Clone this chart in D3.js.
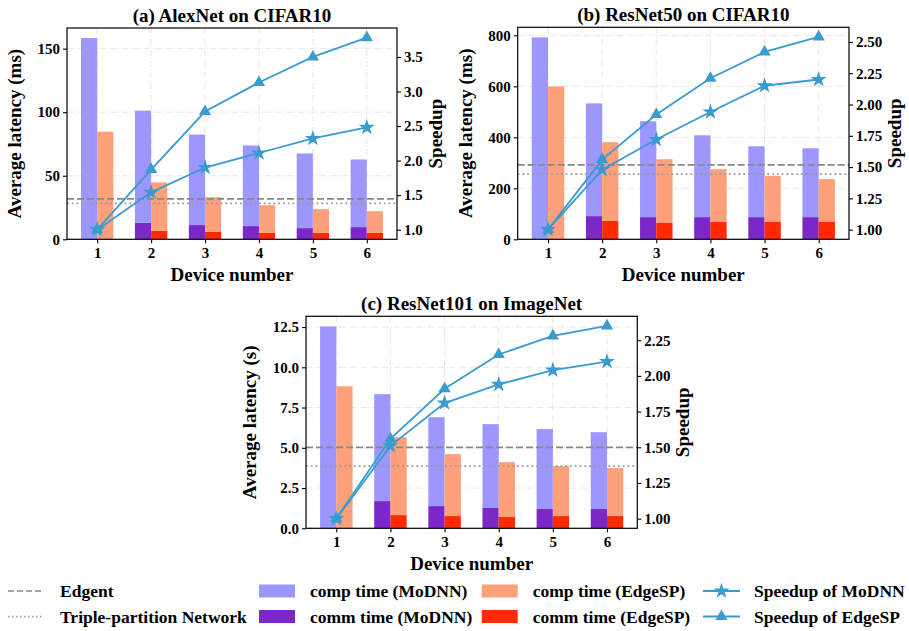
<!DOCTYPE html>
<html>
<head>
<meta charset="utf-8">
<script src="https://cdn.jsdelivr.net/npm/d3@7"></script>
<style>
  body { margin: 0; background: #fff; }
  svg { font-family: "Liberation Serif", "Times New Roman", serif; font-weight: bold; }
</style>
</head>
<body>
<div id="general"></div>
<script>
const devices = [1, 2, 3, 4, 5, 6];

// (a) AlexNet on CIFAR10, ms
const alexCommModnn = [0, 13, 11.2, 10.4, 8.8, 9.6];
const alexTotalModnn = [158.3, 101.2, 82.4, 73.8, 67.5, 62.8];
const alexCommEdgesp = [0, 6.7, 6.0, 5.2, 5.2, 5.2];
const alexTotalEdgesp = [84.7, 44.8, 33.1, 26.8, 23.7, 22.1];
const alexSpeedModnn = [1.0, 1.54, 1.90, 2.11, 2.32, 2.48];
const alexSpeedEdgesp = [1.0, 1.87, 2.71, 3.13, 3.50, 3.78];
const alexEdgent = 31.8, alexTriple = 28.2;

// (b) ResNet50 on CIFAR10, ms
const r50CommModnn = [0, 91, 87, 87, 87, 87];
const r50TotalModnn = [792, 533, 463, 408, 365, 357];
const r50CommEdgesp = [0, 72, 64, 68, 68, 68];
const r50TotalEdgesp = [600, 381, 314, 275, 249, 236];
const r50SpeedModnn = [1.0, 1.48, 1.72, 1.94, 2.15, 2.20];
const r50SpeedEdgesp = [1.0, 1.56, 1.92, 2.21, 2.42, 2.54];
const r50Edgent = 292, r50Triple = 256;

// (c) ResNet101 on ImageNet, s
const r101CommModnn = [0, 1.69, 1.38, 1.26, 1.20, 1.20];
const r101TotalModnn = [12.54, 8.33, 6.90, 6.47, 6.16, 5.97];
const r101CommEdgesp = [0, 0.82, 0.76, 0.70, 0.76, 0.76];
const r101TotalEdgesp = [8.82, 5.66, 4.61, 4.11, 3.86, 3.74];
const r101SpeedModnn = [1.0, 1.51, 1.81, 1.94, 2.04, 2.10];
const r101SpeedEdgesp = [1.0, 1.56, 1.91, 2.15, 2.28, 2.35];
const r101Edgent = 5.02, r101Triple = 3.86;

const col = {
  compModnn: "#9b97fd",
  commModnn: "#7c27c9",
  compEdgesp: "#fea07a",
  commEdgesp: "#ff2a00",
  line: "#3a9bce",
  ref: "#888888"
};

const W = 909, H = 631;
const svg = d3.select("#general").append("svg")
  .attr("width", W).attr("height", H)
  .attr("viewBox", [0, 0, W, H]);

const star = d3.symbol().type(d3.symbolStar).size(80);
const tri = d3.symbol().type(d3.symbolTriangle).size(65);

function panel(p) {
  const g = svg.append("g");
  const x = d3.scaleLinear().domain([0.44, 6.56]).range([p.l, p.r]);
  const maxBar = d3.max(p.totalModnn.concat(p.totalEdgesp));
  const y = d3.scaleLinear().domain([0, maxBar * 1.05]).range([p.b, p.t]);
  const allSp = p.spModnn.concat(p.spEdgesp);
  const [s0, s1] = d3.extent(allSp);
  const pad = (s1 - s0) * 0.05;
  const y2 = d3.scaleLinear().domain([s0 - pad, s1 + pad]).range([p.b, p.t]);
  const bw = x(1.3) - x(1);

  // grid
  g.append("g").selectAll("line").data(p.yTicks).join("line")
    .attr("x1", p.l).attr("x2", p.r).attr("y1", d => y(d)).attr("y2", d => y(d))
    .attr("stroke", "#e3e3e3").attr("stroke-width", 0.9).attr("stroke-dasharray", "6,2,1,2");
  g.append("g").selectAll("line").data(devices).join("line")
    .attr("y1", p.t).attr("y2", p.b).attr("x1", d => x(d)).attr("x2", d => x(d))
    .attr("stroke", "#e3e3e3").attr("stroke-width", 0.9).attr("stroke-dasharray", "6,2,1,2");

  // bars: comm at the bottom, comp stacked on top
  const rows = devices.map((d, i) => ({
    d, cm: p.commModnn[i], tm: p.totalModnn[i], ce: p.commEdgesp[i], te: p.totalEdgesp[i]
  }));
  const gb = g.append("g");
  gb.selectAll(".cm").data(rows).join("rect")
    .attr("x", r => x(r.d) - bw).attr("width", bw)
    .attr("y", r => y(r.cm)).attr("height", r => y(0) - y(r.cm)).attr("fill", col.commModnn);
  gb.selectAll(".pm").data(rows).join("rect")
    .attr("x", r => x(r.d) - bw).attr("width", bw)
    .attr("y", r => y(r.tm)).attr("height", r => y(r.cm) - y(r.tm)).attr("fill", col.compModnn);
  gb.selectAll(".ce").data(rows).join("rect")
    .attr("x", r => x(r.d)).attr("width", bw)
    .attr("y", r => y(r.ce)).attr("height", r => y(0) - y(r.ce)).attr("fill", col.commEdgesp);
  gb.selectAll(".pe").data(rows).join("rect")
    .attr("x", r => x(r.d)).attr("width", bw)
    .attr("y", r => y(r.te)).attr("height", r => y(r.ce) - y(r.te)).attr("fill", col.compEdgesp);

  // reference lines
  g.append("line").attr("x1", p.l).attr("x2", p.r).attr("y1", y(p.edgent)).attr("y2", y(p.edgent))
    .attr("stroke", col.ref).attr("stroke-width", 1.8).attr("stroke-dasharray", "7,3");
  g.append("line").attr("x1", p.l).attr("x2", p.r).attr("y1", y(p.triple)).attr("y2", y(p.triple))
    .attr("stroke", "#999").attr("stroke-width", 1.8).attr("stroke-dasharray", "1.8,3");

  // speedup lines
  const line = d3.line().x((v, i) => x(devices[i])).y(v => y2(v));
  [[p.spEdgesp, tri], [p.spModnn, star]].forEach(([vals, sym]) => {
    g.append("path").attr("d", line(vals)).attr("fill", "none")
      .attr("stroke", col.line).attr("stroke-width", 1.8);
    g.append("g").selectAll("path").data(vals).join("path")
      .attr("transform", (v, i) => `translate(${x(devices[i])},${y2(v)})`)
      .attr("d", sym).attr("fill", col.line);
  });

  // frame
  g.append("rect").attr("x", p.l).attr("y", p.t).attr("width", p.r - p.l).attr("height", p.b - p.t)
    .attr("fill", "none").attr("stroke", "#000").attr("stroke-width", 1.2);

  // axes
  const ax = g.append("g").attr("transform", `translate(0,${p.b})`)
    .call(d3.axisBottom(x).tickValues(devices).tickSize(4).tickPadding(4).tickFormat(d3.format("d")));
  const ay = g.append("g").attr("transform", `translate(${p.l},0)`)
    .call(d3.axisLeft(y).tickValues(p.yTicks).tickSize(4).tickPadding(3).tickFormat(d3.format(p.yFmt)));
  const ay2 = g.append("g").attr("transform", `translate(${p.r},0)`)
    .call(d3.axisRight(y2).tickValues(p.y2Ticks).tickSize(4).tickPadding(3).tickFormat(d3.format(p.y2Fmt)));
  [ax, ay, ay2].forEach(a => {
    a.select(".domain").remove();
    a.selectAll("line").attr("stroke", "#000").attr("stroke-width", 1.1);
    a.selectAll("text").attr("font-size", 15).attr("font-family", "Liberation Serif").attr("font-weight", "bold").attr("fill", "#000");
  });

  // labels
  const cx = (p.l + p.r) / 2;
  g.append("text").attr("x", cx).attr("y", p.t - 6).attr("text-anchor", "middle")
    .attr("font-size", 19).text(p.title);
  g.append("text").attr("x", cx).attr("y", p.b + 42).attr("text-anchor", "middle")
    .attr("font-size", 19).text("Device number");
  g.append("text").attr("transform", `translate(${p.l - p.yLabOff},${(p.t + p.b) / 2}) rotate(-90)`)
    .attr("text-anchor", "middle").attr("font-size", 19).text(p.yLabel);
  g.append("text").attr("transform", `translate(${p.r + p.y2LabOff},${(p.t + p.b) / 2}) rotate(-90)`)
    .attr("text-anchor", "middle").attr("font-size", 19).text("Speedup");
}

panel({
  l: 67, r: 397, t: 28, b: 239.3, title: "(a) AlexNet on CIFAR10", yLabel: "Average latency (ms)",
  commModnn: alexCommModnn, totalModnn: alexTotalModnn, commEdgesp: alexCommEdgesp, totalEdgesp: alexTotalEdgesp,
  spModnn: alexSpeedModnn, spEdgesp: alexSpeedEdgesp, edgent: alexEdgent, triple: alexTriple,
  yTicks: [0, 50, 100, 150], yFmt: "d", y2Ticks: [1, 1.5, 2, 2.5, 3, 3.5], y2Fmt: ".1f",
  yLabOff: 46, y2LabOff: 45
});
panel({
  l: 517.7, r: 849, t: 27.3, b: 239.3, title: "(b) ResNet50 on CIFAR10", yLabel: "Average latency (ms)",
  commModnn: r50CommModnn, totalModnn: r50TotalModnn, commEdgesp: r50CommEdgesp, totalEdgesp: r50TotalEdgesp,
  spModnn: r50SpeedModnn, spEdgesp: r50SpeedEdgesp, edgent: r50Edgent, triple: r50Triple,
  yTicks: [0, 200, 400, 600, 800], yFmt: "d", y2Ticks: [1, 1.25, 1.5, 1.75, 2, 2.25, 2.5], y2Fmt: ".2f",
  yLabOff: 46, y2LabOff: 52
});
panel({
  l: 306, r: 637.3, t: 316.3, b: 528.3, title: "(c) ResNet101 on ImageNet", yLabel: "Average latency (s)",
  commModnn: r101CommModnn, totalModnn: r101TotalModnn, commEdgesp: r101CommEdgesp, totalEdgesp: r101TotalEdgesp,
  spModnn: r101SpeedModnn, spEdgesp: r101SpeedEdgesp, edgent: r101Edgent, triple: r101Triple,
  yTicks: [0, 2.5, 5, 7.5, 10, 12.5], yFmt: ".1f", y2Ticks: [1, 1.25, 1.5, 1.75, 2, 2.25], y2Fmt: ".2f",
  yLabOff: 50, y2LabOff: 52
});

// legend
const leg = svg.append("g").attr("font-size", 17.5);
const rowY = [591, 616.5];
const lines = [
  {x: 8, dash: "6,3", stroke: col.ref, label: "Edgent", y: rowY[0], tx: 60},
  {x: 8, dash: "1.5,2.5", stroke: "#999", label: "Triple-partition Network", y: rowY[1], tx: 60}
];
lines.forEach(d => {
  leg.append("line").attr("x1", d.x).attr("x2", d.x + 36).attr("y1", d.y).attr("y2", d.y)
    .attr("stroke", d.stroke).attr("stroke-width", 1.5).attr("stroke-dasharray", d.dash);
  leg.append("text").attr("x", d.tx).attr("y", d.y + 6).text(d.label);
});
const patches = [
  {x: 259, y: rowY[0], fill: col.compModnn, label: "comp time (MoDNN)"},
  {x: 259, y: rowY[1], fill: col.commModnn, label: "comm time (MoDNN)"},
  {x: 481.7, y: rowY[0], fill: col.compEdgesp, label: "comp time (EdgeSP)"},
  {x: 481.7, y: rowY[1], fill: col.commEdgesp, label: "comm time (EdgeSP)"}
];
patches.forEach(d => {
  leg.append("rect").attr("x", d.x).attr("y", d.y - 6.5).attr("width", 36).attr("height", 13).attr("fill", d.fill);
  leg.append("text").attr("x", d.x + 51).attr("y", d.y + 6).text(d.label);
});
[{sym: star, label: "Speedup of MoDNN", y: rowY[0]}, {sym: tri, label: "Speedup of EdgeSP", y: rowY[1]}].forEach(d => {
  leg.append("line").attr("x1", 703).attr("x2", 740).attr("y1", d.y).attr("y2", d.y)
    .attr("stroke", col.line).attr("stroke-width", 1.8);
  leg.append("path").attr("transform", `translate(721.5,${d.y})`).attr("d", d.sym).attr("fill", col.line);
  leg.append("text").attr("x", 754).attr("y", d.y + 6).text(d.label);
});
</script>
</body>
</html>
